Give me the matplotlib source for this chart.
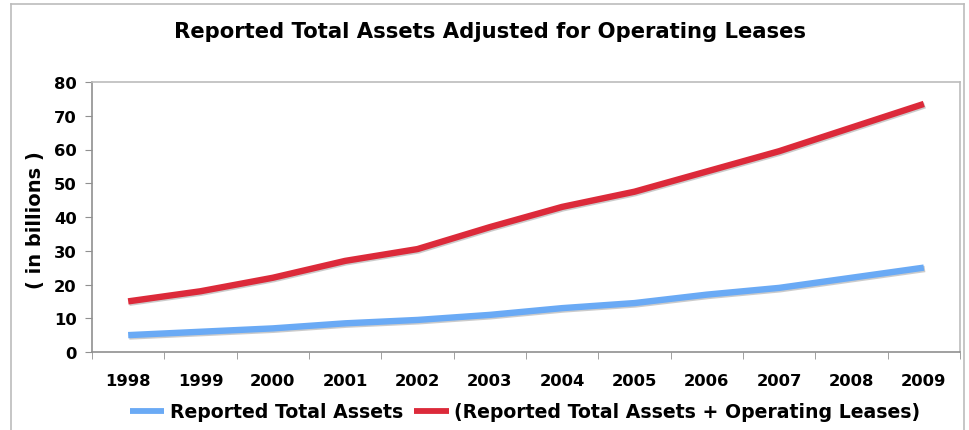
import numpy as np
from matplotlib import pyplot as plt
from matplotlib.lines import Line2D
import matplotlib.patheffects as pe

years = ["1998", "1999", "2000", "2001", "2002", "2003",
         "2004", "2005", "2006", "2007", "2008", "2009"]
reported = [5, 6, 7, 8.5, 9.5, 11, 13, 14.5, 17, 19, 22, 25]
with_leases = [15, 18, 22, 27, 30.5, 37, 43, 47.5, 53.5, 59.5, 66.5, 73.5]

blue = "#6aaaf5"
red = "#dc2a3a"

W, H = 969, 431
fig = plt.figure(figsize=(W / 100, H / 100), dpi=100)
ax = fig.add_axes([92 / W, 1 - 353 / H, (960 - 92) / W, (353 - 83) / H])

x = np.arange(len(years))
shadow = [pe.SimpleLineShadow(offset=(0.8, -1.0), shadow_color="#999999", alpha=0.5), pe.Normal()]
ax.plot(x, reported, color=blue, lw=4.6, solid_capstyle="butt",
        path_effects=shadow, label="Reported Total Assets")
ax.plot(x, with_leases, color=red, lw=4.6, solid_capstyle="butt",
        path_effects=shadow, label="(Reported Total Assets + Operating Leases)")

ax.set_xlim(-0.5, len(years) - 0.5)
ax.set_ylim(0, 80)
ax.set_yticks(range(0, 81, 10))
ax.set_xticks(x)
ax.set_xticklabels(years)
ax.set_xticks(np.arange(-0.5, len(years), 1), minor=True)
ax.tick_params(axis="x", which="major", length=0, pad=15)
ax.tick_params(axis="x", which="minor", length=5, color="#909090", direction="out")
ax.tick_params(axis="y", length=5, color="#909090", pad=6)
for lab in ax.get_xticklabels() + ax.get_yticklabels():
    lab.set_fontsize(11.8)
    lab.set_fontweight("bold")

for side in ["top", "right"]:
    ax.spines[side].set_color("#bcbcbc")
for side in ["left", "bottom"]:
    ax.spines[side].set_color("#909090")
for sp in ax.spines.values():
    sp.set_linewidth(1.2)

fig.text(35 / W, 1 - 220 / H, "( in billions )", rotation=90,
         ha="center", va="center", fontsize=14, fontweight="bold")

fig.text(490 / W, 1 - 32 / H, "Reported Total Assets Adjusted for Operating Leases",
         ha="center", va="center", fontsize=15.2, fontweight="bold")

# outer frame
fc = "#bcbcbc"
fig.add_artist(Line2D([11 / W, 11 / W], [0, 1 - 5 / H], color=fc, lw=1.2, transform=fig.transFigure))
fig.add_artist(Line2D([964 / W, 964 / W], [0, 1 - 5 / H], color=fc, lw=1.2, transform=fig.transFigure))
fig.add_artist(Line2D([11 / W, 964 / W], [1 - 5 / H, 1 - 5 / H], color=fc, lw=1.2, transform=fig.transFigure))

leg = fig.legend(loc="center", bbox_to_anchor=(525 / W, 1 - 413 / H), ncol=2, frameon=False,
                 handlelength=1.85, columnspacing=0.55, handletextpad=0.3,
                 prop={"weight": "bold", "size": 13.6})
for h in leg.legend_handles:
    h.set_path_effects([])
    h.set_linewidth(4.2)

fig.savefig("out.png", dpi=100)
